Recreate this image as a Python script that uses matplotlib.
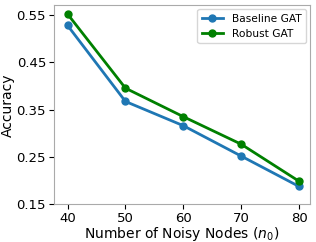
import matplotlib
matplotlib.use('Agg')
import matplotlib.pyplot as plt

# Data
noisy_nodes = [40, 50, 60, 70, 80]
baseline_gat = [0.527, 0.367, 0.316, 0.252, 0.188]
robust_gat = [0.551, 0.395, 0.335, 0.277, 0.199]
yticks = [0.15, 0.25, 0.35, 0.45, 0.55]

fig, ax = plt.subplots(figsize=(3.16, 2.42), dpi=100)
ax.plot(noisy_nodes, baseline_gat, marker='o', color='tab:blue', lw=2, ms=5, label='Baseline GAT')
ax.plot(noisy_nodes, robust_gat, marker='o', color='green', lw=2, ms=5, label='Robust GAT')

ax.set_ylim(0.15, 0.57)
ax.set_xlim(37.6, 81.9)
ax.set_yticks(yticks)
ax.set_xticks(noisy_nodes)
ax.tick_params(labelsize=9.5, pad=2)
ax.set_xlabel('Number of Noisy Nodes ($n_0$)', fontsize=10, labelpad=0)
ax.set_ylabel('Accuracy', fontsize=10, labelpad=1)
for s in ax.spines.values():
    s.set_color('#aaaaaa')
ax.legend(fontsize=7.7, loc='upper right', borderaxespad=0.4)

fig.subplots_adjust(left=0.17, right=0.981, top=0.979, bottom=0.155)
fig.savefig('out.png', dpi=100)
